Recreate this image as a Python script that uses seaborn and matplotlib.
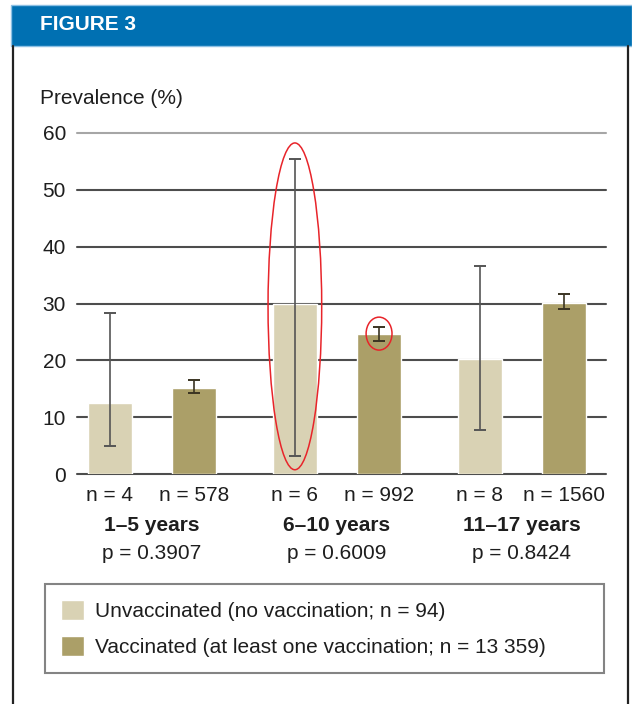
"""Prevalence by age group and vaccination status (Figure 3 recreation)."""

import matplotlib

matplotlib.use("Agg")
import matplotlib.pyplot as plt
import pandas as pd
import seaborn as sns
from matplotlib.lines import Line2D
from matplotlib.patches import Ellipse, Rectangle

# --- data ------------------------------------------------------------------
age_groups = ["1–5 years", "6–10 years", "11–17 years"]
p_labels = ["p = 0.3907", "p = 0.6009", "p = 0.8424"]
status_levels = ["Unvaccinated (no vaccination; n = 94)",
                 "Vaccinated (at least one vaccination; n = 13 359)"]

unvacc_prev = [12.5, 30.0, 20.2]
unvacc_lo = [4.9, 3.2, 7.7]
unvacc_hi = [28.3, 55.5, 36.6]
unvacc_n = [4, 6, 8]

vacc_prev = [15.1, 24.6, 30.1]
vacc_lo = [14.3, 23.4, 29.0]
vacc_hi = [16.5, 25.9, 31.7]
vacc_n = [578, 992, 1560]

yticks = [0, 10, 20, 30, 40, 50, 60]

# --- style -----------------------------------------------------------------
sns.set_theme(style="white")
plt.rcParams["font.family"] = ["Liberation Sans", "DejaVu Sans"]

bar_colors = ["#d9d2b4", "#ab9f68"]
err_colors = ["#555555", "#3a3422"]
text_color = "#1e1e1e"
fs = 15

frame = pd.DataFrame({
    "age": age_groups * 2,
    "status": [status_levels[0]] * 3 + [status_levels[1]] * 3,
    "prevalence": unvacc_prev + vacc_prev,
})

fig = plt.figure(figsize=(6.32, 7.04), dpi=100)
ax = fig.add_axes([77 / 632, 230 / 704, 529 / 632, 341 / 704])

sns.barplot(
    data=frame, x="age", y="prevalence", hue="status",
    order=age_groups, hue_order=status_levels,
    palette=bar_colors, errorbar=None, width=0.91, gap=0.47,
    saturation=1, ax=ax,
)
handles, _ = ax.get_legend_handles_labels()
ax.get_legend().remove()

# asymmetric confidence intervals
series = [(unvacc_prev, unvacc_lo, unvacc_hi, unvacc_n),
          (vacc_prev, vacc_lo, vacc_hi, vacc_n)]
centers = []
for container, (prev, lo, hi, ns), ecol in zip(ax.containers, series, err_colors):
    xs = [bar.get_x() + bar.get_width() / 2 for bar in container]
    centers.append(xs)
    yerr = [[p - l for p, l in zip(prev, lo)], [h - p for p, h in zip(prev, hi)]]
    ax.errorbar(xs, prev, yerr=yerr, fmt="none", ecolor=ecol,
                elinewidth=1.2, capsize=4.5, capthick=1.4, zorder=4)
    for x, n in zip(xs, ns):
        ax.text(x, -0.062, f"n = {n}", transform=ax.get_xaxis_transform(),
                ha="center", va="center", fontsize=fs, color=text_color)

for i, (age, p) in enumerate(zip(age_groups, p_labels)):
    ax.text(i, -0.150, age, transform=ax.get_xaxis_transform(),
            ha="center", va="center", fontsize=fs, color=text_color,
            fontweight="bold")
    ax.text(i, -0.232, p, transform=ax.get_xaxis_transform(),
            ha="center", va="center", fontsize=fs, color=text_color)

# red highlight ellipses around the wide and the narrow CI
ax.add_patch(Ellipse((centers[0][1], 29.5), 0.29, 57.5, fill=False,
                     edgecolor="#e8242a", lw=1.1, zorder=6, clip_on=False))
ax.add_patch(Ellipse((centers[1][1], 24.7), 0.14, 5.8, fill=False,
                     edgecolor="#e8242a", lw=1.1, zorder=6, clip_on=False))

ax.set_xlim(-0.405, 2.454)
ax.set_ylim(0, 60)
ax.set_yticks(yticks)
ax.set_yticklabels([str(t) for t in yticks], fontsize=fs, color=text_color)
ax.set_xticks([])
ax.set_xlabel("")
ax.set_ylabel("")
ax.tick_params(axis="y", length=0, pad=8)
ax.set_axisbelow(True)
ax.yaxis.grid(True, color="#4d4d4d", linewidth=1.5)
for gl in ax.get_ygridlines():
    gl.set_clip_on(False)
ax.get_ygridlines()[-1].set_color("#a6a6a6")
sns.despine(ax=ax, left=True, bottom=True)

# legend box below the chart
leg = fig.legend(
    handles, status_levels, loc="lower left",
    bbox_to_anchor=(45 / 632, 31 / 704, 559 / 632, 90 / 704),
    mode="expand", ncol=1, fontsize=fs, frameon=True, fancybox=False,
    borderpad=0.75, labelspacing=0.75, handlelength=1.1, handleheight=1.1,
    handletextpad=0.55, borderaxespad=0,
)
leg.get_frame().set_edgecolor("#666666")
leg.get_frame().set_linewidth(1.5)
for t in leg.get_texts():
    t.set_color(text_color)

# header band and frame
fig.patches.append(Rectangle((11 / 632, 658 / 704), 621 / 632, 41 / 704,
                             transform=fig.transFigure, facecolor="#0070b2",
                             edgecolor="#8cc0e4", linewidth=1.0))
fig.text(40 / 632, 679 / 704, "FIGURE 3", color="white", fontsize=15,
         fontweight="bold", ha="left", va="center")
for xf in (13 / 632, 628 / 632):
    fig.lines.append(Line2D([xf, xf], [0, 658 / 704], transform=fig.transFigure,
                            color="#222222", linewidth=1.6))

fig.text(40 / 632, 606 / 704, "Prevalence (%)", fontsize=fs, color=text_color,
         ha="left", va="center")

fig.savefig("out.png", dpi=100)
plt.close(fig)
